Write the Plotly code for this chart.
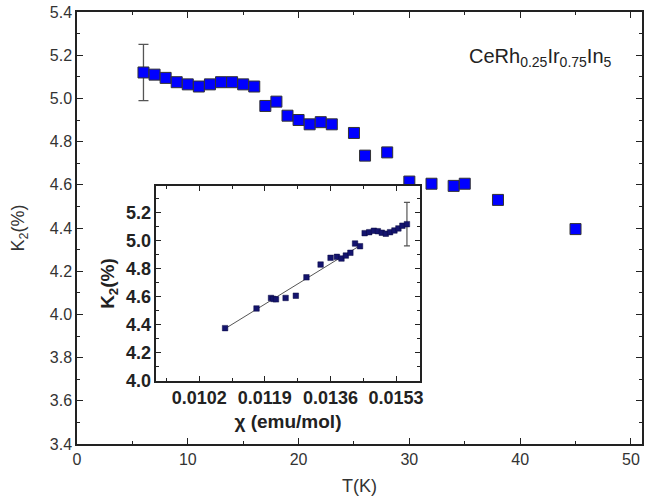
import plotly.graph_objects as go

# Main panel: Knight shift K2 versus temperature
temperature = [6, 7, 8, 9, 10, 11, 12, 13, 14, 15, 16, 17, 18, 19, 20, 21, 22, 23,
               25, 26, 28, 30, 32, 34, 35, 38, 45]
k2 = [5.120, 5.110, 5.095, 5.075, 5.065, 5.055, 5.065, 5.075, 5.075, 5.065, 5.055,
      4.965, 4.985, 4.920, 4.900, 4.880, 4.890, 4.880, 4.840, 4.735, 4.750, 4.615,
      4.605, 4.595, 4.605, 4.530, 4.395]
k2_err = 0.13  # error bar shown on the lowest-temperature point

# Inset: K2 versus susceptibility chi
chi = [0.010869, 0.011684, 0.012060, 0.012121, 0.012188, 0.012438, 0.012703,
       0.012978, 0.013345, 0.013603, 0.013767, 0.013886, 0.013999, 0.014117,
       0.014238, 0.014367, 0.014487, 0.014606, 0.014726, 0.014829, 0.014932,
       0.015035, 0.015146, 0.015259, 0.015362, 0.015465, 0.015583]
k2_chi = [4.377, 4.517, 4.592, 4.585, 4.582, 4.592, 4.608, 4.739, 4.830, 4.878,
          4.885, 4.873, 4.894, 4.914, 4.980, 4.961, 5.054, 5.061, 5.071, 5.068,
          5.057, 5.050, 5.061, 5.073, 5.088, 5.107, 5.118]
k2_chi_err = 0.155
fit_chi = [0.01085, 0.01437]
fit_k2 = [4.370, 4.966]

main_ticks = [0, 10, 20, 30, 40, 50]
inset_xticks = [0.0102, 0.0119, 0.0136, 0.0153]

FONT = "Liberation Sans, Arial, sans-serif"
AX = "#222222"

fig = go.Figure()

# error bar for the first point (drawn under the markers)
fig.add_trace(go.Scatter(
    x=temperature[:1], y=k2[:1], mode="markers",
    marker=dict(size=1, opacity=0),
    error_y=dict(type="constant", value=k2_err, color="#555555", thickness=1.3, width=5),
    xaxis="x", yaxis="y", hoverinfo="skip"))
fig.add_trace(go.Scatter(
    x=temperature, y=k2, mode="markers",
    marker=dict(symbol="square", size=11, color="#0000ff",
                line=dict(color="#333333", width=1)),
    xaxis="x", yaxis="y"))

# inset traces
fig.add_trace(go.Scatter(
    x=fit_chi, y=fit_k2, mode="lines",
    line=dict(color="#555555", width=1),
    xaxis="x2", yaxis="y2"))
fig.add_trace(go.Scatter(
    x=chi[-1:], y=k2_chi[-1:], mode="markers",
    marker=dict(size=1, opacity=0),
    error_y=dict(type="constant", value=k2_chi_err, color="#555555", thickness=1.2, width=3),
    xaxis="x2", yaxis="y2", hoverinfo="skip"))
fig.add_trace(go.Scatter(
    x=chi, y=k2_chi, mode="markers",
    marker=dict(symbol="square", size=5.5, color="#14146e",
                line=dict(color="#0a0a40", width=0.5)),
    xaxis="x2", yaxis="y2"))

common = dict(showgrid=False, zeroline=False, showline=True, linecolor=AX,
              mirror="allticks", ticks="inside", tickcolor=AX)

fig.update_layout(
    width=646, height=504,
    margin=dict(l=77, r=0, t=12, b=60),
    paper_bgcolor="white", plot_bgcolor="white",
    showlegend=False,
    font=dict(family=FONT, color="#333333"),
    xaxis=dict(
        **common, domain=[0, 1], range=[0, 51], linewidth=1.5,
        tickvals=main_ticks, ticklen=6, tickwidth=1.3,
        minor=dict(dtick=5, tick0=0, ticks="inside", ticklen=3, tickcolor=AX, tickwidth=1.2),
        tickfont=dict(size=16, color="#333333"),
        title=dict(text="T(K)", font=dict(size=18, color="#333333"), standoff=12),
        anchor="y"),
    yaxis=dict(
        **common, domain=[0, 1], range=[3.4, 5.4], linewidth=1.5,
        dtick=0.2, tick0=3.4, tickformat=".1f", ticklen=6, tickwidth=1.3,
        minor=dict(dtick=0.1, ticks="inside", ticklen=3, tickcolor=AX, tickwidth=1.2),
        tickfont=dict(size=16, color="#333333"),
        title=dict(text="K<sub>2</sub>(%)", font=dict(size=18, color="#333333"), standoff=20),
        anchor="x"),
    xaxis2=dict(
        **common, domain=[0.1406, 0.6063], range=[0.00909, 0.01591], linewidth=1.5,
        tickvals=inset_xticks, tickformat=".4f", ticklen=5, tickwidth=1.2,
        minor=dict(dtick=0.00085, tick0=0.0102, ticks="inside", ticklen=3, tickcolor=AX),
        tickfont=dict(size=18, color="#222222", weight="bold"),
        title=dict(text="<b>χ (emu/mol)</b>", font=dict(size=19, color="#222222"), standoff=7),
        anchor="y2"),
    yaxis2=dict(
        **common, domain=[0.1458, 0.5972], range=[4.0, 5.39], linewidth=1.5,
        dtick=0.2, tick0=4.0, tickformat=".1f", ticklen=5, tickwidth=1.2,
        minor=dict(dtick=0.1, ticks="inside", ticklen=3, tickcolor=AX),
        tickfont=dict(size=18, color="#222222", weight="bold"),
        title=dict(text="<b>K<sub>2</sub>(%)</b>", font=dict(size=19, color="#222222"), standoff=6),
        anchor="x2"),
    annotations=[dict(
        text="CeRh<sub>0.25</sub>Ir<sub>0.75</sub>In<sub>5</sub>",
        xref="paper", yref="paper", x=0.95, y=0.895, xanchor="right", yanchor="middle",
        showarrow=False, font=dict(size=20, color="#222222", family=FONT))],
)

fig.write_html("out.html")
